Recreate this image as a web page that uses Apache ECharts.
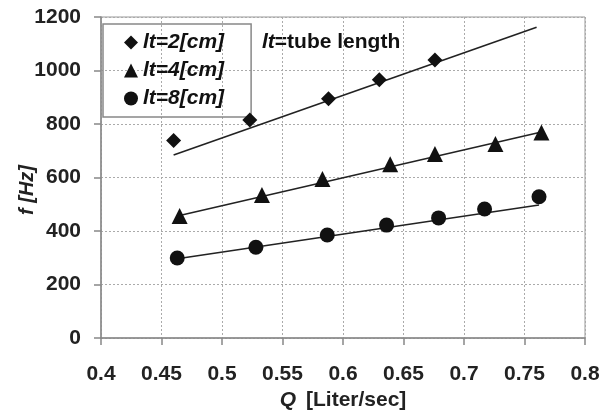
<!DOCTYPE html>
<html><head><meta charset="utf-8">
<script src="https://cdn.jsdelivr.net/npm/echarts@6/dist/echarts.min.js"></script>
<style>html,body{margin:0;padding:0;background:#fff}#c{width:602px;height:410px}</style>
</head><body><div id="c"></div>
<script>
var xTicks = {min: 0.4, max: 0.8, step: 0.05};
var yTicks = {min: 0, max: 1200, step: 200};
var names = ['lt=2[cm]', 'lt=4[cm]', 'lt=8[cm]'];
var lt2 = [[0.460, 738], [0.523, 815], [0.588, 894], [0.630, 965], [0.676, 1039]];
var lt4 = [[0.465, 456], [0.533, 535], [0.583, 594], [0.639, 650], [0.676, 688], [0.726, 725], [0.764, 768]];
var lt8 = [[0.463, 299], [0.528, 339], [0.587, 385], [0.636, 422], [0.679, 449], [0.717, 482], [0.762, 528]];
var fit2 = [[0.460, 684], [0.760, 1162]];
var fit4 = [[0.465, 458], [0.764, 770]];
var fit8 = [[0.463, 296], [0.762, 497]];

var F = 'Liberation Sans, Arial, sans-serif';
var chart = echarts.init(document.getElementById('c'));
function sc(name, data, sym, size) {
  return {type: 'scatter', name: name, data: data, symbol: sym, symbolSize: size,
    itemStyle: {color: '#111', opacity: 1}, z: 5};
}
function ln(data) {
  return {type: 'line', data: data, symbol: 'none', silent: true,
    lineStyle: {color: '#222', width: 1.6}, z: 3};
}
chart.setOption({
  animation: false,
  grid: {left: 101, right: 17, top: 17, bottom: 72, show: true, borderColor: '#999', borderWidth: 1,
    containLabel: false, outerBoundsMode: 'none'},
  legend: {
    data: [{name: names[0], icon: 'diamond'}, {name: names[1], icon: 'triangle'}, {name: names[2], icon: 'circle'}],
    orient: 'vertical', left: 103, top: 24, itemWidth: 14, itemHeight: 14, itemGap: 7,
    padding: [8, 27, 8, 21], borderColor: '#888', borderWidth: 1.5,
    textStyle: {fontFamily: F, fontSize: 21, fontWeight: 'bold', fontStyle: 'italic', color: '#111'}
  },
  xAxis: {
    type: 'value', min: xTicks.min, max: xTicks.max, interval: xTicks.step,
    name: '{q|Q}   {r|[Liter/sec]}', nameLocation: 'middle', nameGap: 50,
    nameTextStyle: {rich: {
      q: {fontFamily: F, fontSize: 21, fontWeight: 'bold', fontStyle: 'italic', color: '#222'},
      r: {fontFamily: F, fontSize: 21, fontWeight: 'bold', color: '#222'}}},
    axisLine: {lineStyle: {color: '#888', width: 1.5}},
    axisTick: {show: true, inside: false, length: 7, lineStyle: {color: '#888', width: 1.5}},
    axisLabel: {fontFamily: F, fontSize: 21, fontWeight: 'bold', color: '#222', margin: 26},
    splitLine: {show: true, lineStyle: {color: '#aaa', type: [2, 2], width: 1}}
  },
  yAxis: {
    type: 'value', min: yTicks.min, max: yTicks.max, interval: yTicks.step,
    axisLine: {show: true, lineStyle: {color: '#888', width: 1.5}},
    axisTick: {show: true, inside: false, length: 7, lineStyle: {color: '#888', width: 1.5}},
    axisLabel: {fontFamily: F, fontSize: 21, fontWeight: 'bold', color: '#222', margin: 20,
      formatter: function (v) { return String(v); }},
    splitLine: {show: true, lineStyle: {color: '#aaa', type: [2, 2], width: 1}}
  },
  graphic: [{
    type: 'text', left: 262, top: 32,
    style: {text: '{a|lt}{b|=tube length}', rich: {
      a: {fontFamily: F, fontSize: 21, fontWeight: 'bold', fontStyle: 'italic', fill: '#111'},
      b: {fontFamily: F, fontSize: 21, fontWeight: 'bold', fill: '#111'}}}
  }, {
    type: 'text', x: 27, y: 190, rotation: Math.PI / 2,
    style: {text: 'f [Hz]', fontFamily: F, fontSize: 20, fontWeight: 'bold', fontStyle: 'italic',
      fill: '#222', align: 'center', verticalAlign: 'middle'}
  }],
  series: [
    ln(fit2), ln(fit4), ln(fit8),
    sc(names[0], lt2, 'diamond', 15),
    sc(names[1], lt4, 'triangle', 16),
    sc(names[2], lt8, 'circle', 15)
  ]
});
</script></body></html>
